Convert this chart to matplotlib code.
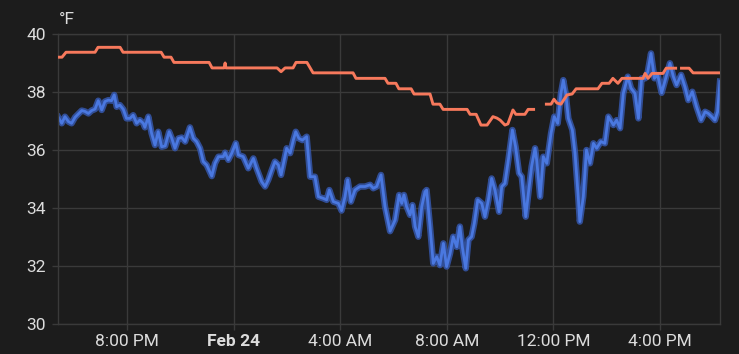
import numpy as np
import pandas as pd
import matplotlib
matplotlib.use("Agg")
import matplotlib.pyplot as plt

plt.rcParams['font.family'] = ['Roboto', 'DejaVu Sans']

# hours counted from 2024-02-23 00:00
blue_hours = [
    17.42, 17.55, 17.67, 17.80, 17.92, 18.05, 18.17, 18.30, 18.42, 18.55,
    18.67, 18.80, 18.92, 19.05, 19.17, 19.30, 19.42, 19.52, 19.61, 19.73,
    19.86, 19.98, 20.11, 20.23, 20.36, 20.48, 20.61, 20.67, 20.80, 20.92,
    21.05, 21.17, 21.30, 21.43, 21.58, 21.68, 21.80, 21.93, 22.05, 22.18,
    22.36, 22.49, 22.61, 22.74, 22.86, 22.99, 23.18, 23.30, 23.43, 23.61,
    23.68, 23.80, 23.93, 24.08, 24.18, 24.36, 24.55, 24.74, 24.86, 25.05,
    25.18, 25.30, 25.43, 25.55, 25.68, 25.78, 25.87, 25.99, 26.12, 26.24,
    26.33, 26.45, 26.58, 26.74, 26.87, 27.05, 27.18, 27.37, 27.49, 27.59,
    27.74, 27.93, 28.05, 28.18, 28.28, 28.40, 28.55, 28.74, 28.93, 29.12,
    29.24, 29.37, 29.53, 29.68, 29.87, 30.06, 30.21, 30.31, 30.39, 30.49,
    30.62, 30.71, 30.81, 30.93, 31.06, 31.18, 31.24, 31.37, 31.49, 31.62,
    31.74, 31.87, 31.99, 32.12, 32.24, 32.37, 32.49, 32.58, 32.71, 32.81,
    32.93, 33.03, 33.16, 33.31, 33.43, 33.56, 33.68, 33.81, 33.96, 34.06,
    34.18, 34.31, 34.46, 34.58, 34.71, 34.81, 34.96, 35.06, 35.18, 35.31,
    35.37, 35.50, 35.62, 35.75, 35.91, 36.03, 36.16, 36.28, 36.37, 36.46,
    36.56, 36.71, 36.81, 36.93, 36.99, 37.12, 37.24, 37.37, 37.50, 37.62,
    37.78, 37.93, 38.06, 38.25, 38.37, 38.50, 38.62, 38.79, 38.91, 39.06,
    39.19, 39.31, 39.44, 39.54, 39.66, 39.79, 39.91, 40.06, 40.25, 40.37,
    40.50, 40.62, 40.79, 40.94, 41.06, 41.21, 41.37, 41.54, 41.69, 41.81,
    41.94, 42.06, 42.16, 42.25,
]
blue_temp = [
    37.13, 36.92, 37.15, 36.98, 36.92, 37.13, 37.24, 37.36, 37.33, 37.26,
    37.36, 37.41, 37.70, 37.38, 37.67, 37.72, 37.70, 37.90, 37.49, 37.55,
    37.40, 37.09, 37.09, 37.20, 36.92, 37.03, 36.92, 36.78, 37.15, 36.58,
    36.17, 36.63, 36.11, 36.14, 36.63, 36.40, 36.06, 36.40, 36.43, 36.29,
    36.78, 36.40, 36.29, 36.06, 35.60, 35.48, 35.10, 35.54, 35.77, 35.77,
    35.91, 35.66, 35.89, 36.23, 35.83, 35.77, 35.37, 35.71, 35.37, 34.91,
    34.74, 34.97, 35.31, 35.60, 35.48, 35.14, 35.54, 36.06, 35.89, 36.34,
    36.63, 36.40, 36.34, 36.46, 35.08, 35.08, 34.39, 34.33, 34.28, 34.62,
    34.22, 34.16, 33.91, 34.39, 34.97, 34.22, 34.62, 34.74, 34.74, 34.80,
    34.68, 34.74, 35.14, 34.05, 33.20, 33.59, 34.45, 34.16, 34.45, 34.05,
    33.76, 34.10, 33.36, 33.01, 34.05, 34.56, 34.62, 33.36, 32.09, 32.32,
    32.03, 32.78, 31.98, 32.43, 33.01, 32.66, 33.36, 32.66, 31.92, 32.90,
    33.01, 33.47, 34.28, 34.16, 33.70, 34.28, 35.02, 34.60, 33.87, 34.74,
    34.85, 35.66, 36.69, 36.11, 35.20, 35.08, 33.70, 34.51, 35.43, 36.06,
    35.66, 34.39, 35.77, 35.54, 36.58, 37.15, 36.92, 37.95, 38.41, 37.95,
    37.09, 36.69, 35.89, 34.39, 33.53, 34.39, 36.00, 35.54, 36.23, 36.06,
    36.29, 36.23, 37.15, 36.86, 37.03, 36.75, 37.95, 38.53, 38.13, 37.95,
    37.09, 38.47, 38.47, 38.70, 39.33, 38.47, 38.59, 37.97, 38.59, 38.99,
    38.53, 38.24, 38.59, 38.16, 37.72, 38.01, 37.49, 37.03, 37.32, 37.26,
    37.15, 37.03, 37.32, 38.36,
]

orange_hours = [
    17.41, 17.56, 17.71, 18.80, 18.91, 19.74, 19.85, 21.28, 21.39, 21.65,
    21.76, 23.08, 23.19, 23.64, 23.68, 23.71, 25.63, 25.78, 25.93, 26.23,
    26.34, 26.75, 26.98, 28.48, 28.59, 29.68, 29.79, 30.09, 30.20, 30.66,
    30.77, 31.37, 31.48, 31.74, 31.86, 32.76, 32.87, 33.10, 33.28, 33.51,
    33.73, 33.88, 34.00, 34.18, 34.29, 34.48, 34.59, 34.93, 35.05, 35.31,
    35.50, 35.68, 35.91, 36.02, 36.13, 36.28, 36.51, 36.70, 36.85, 37.67,
    37.82, 38.09, 38.23, 38.42, 38.57, 39.36, 39.44, 39.55, 39.70, 40.11,
    40.23, 40.64, 40.70, 40.75, 41.09, 41.24, 42.25,
]
orange_temp = [
    39.20, 39.20, 39.37, 39.37, 39.54, 39.54, 39.37, 39.37, 39.20, 39.20,
    39.02, 39.02, 38.83, 38.83, 39.00, 38.83, 38.83, 38.70, 38.83, 38.83,
    39.02, 39.02, 38.66, 38.66, 38.47, 38.47, 38.30, 38.30, 38.11, 38.11,
    37.93, 37.93, 37.58, 37.58, 37.40, 37.40, 37.23, 37.23, 36.86, 36.86,
    37.15, 37.10, 37.03, 36.86, 36.90, 37.38, 37.23, 37.23, 37.40, 37.40,
    np.nan, 37.58, 37.58, 37.75, 37.62, 37.58, 37.90, 37.93, 38.11, 38.11,
    38.30, 38.30, 38.47, 38.30, 38.47, 38.47, 38.64, 38.47, 38.64, 38.64,
    38.82, 38.82, np.nan, 38.82, 38.82, 38.66, 38.66,
]

tick_hours = [20, 24, 28, 32, 36, 40]
tick_labels = ['8:00 PM', 'Feb 24', '4:00 AM', '8:00 AM', '12:00 PM', '4:00 PM']
x_range = [17.41, 42.25]

base = pd.Timestamp('2024-02-23')
to_time = lambda h: base + pd.to_timedelta(np.array(h), unit='h')

bg = '#1c1c1c'
grid_c = '#3a3a3a'
text_c = '#dcdcdc'

fig = plt.figure(figsize=(7.39, 3.54), dpi=100, facecolor=bg)
ax = fig.add_axes([0.0785, 0.0847, 0.8958, 0.8193], facecolor=bg)

ax.plot(to_time(orange_hours), orange_temp, color='#f7795c', lw=2.1,
        solid_capstyle='butt', zorder=3)
ax.plot(to_time(blue_hours), blue_temp, color='#3557ad', lw=4.6, alpha=0.85,
        solid_joinstyle='round', zorder=2)
ax.plot(to_time(blue_hours), blue_temp, color='#4a78e0', lw=2.0,
        solid_joinstyle='round', zorder=2)

ax.set_ylim(30, 40)
ax.set_yticks([30, 32, 34, 36, 38, 40])
ax.set_xlim(to_time(x_range))
ax.set_xticks(to_time(tick_hours))
ax.set_xticklabels(tick_labels)
for lab in ax.get_xticklabels():
    if lab.get_text() == 'Feb 24':
        lab.set_fontweight('bold')

ax.grid(True, color=grid_c, lw=1.0)
ax.set_axisbelow(True)
for s in ax.spines.values():
    s.set_color(grid_c)
    s.set_linewidth(1.0)
ax.tick_params(axis='both', colors=grid_c, length=4.5, width=1.0,
               labelcolor=text_c, labelsize=12.5)
ax.tick_params(axis='y', pad=4)
ax.tick_params(axis='x', pad=3)

fig.text(59 / 739, 1 - 19 / 354, '°F', color=text_c, fontsize=12.5,
         ha='left', va='center')

fig.savefig('out.png', dpi=100, facecolor=bg)
